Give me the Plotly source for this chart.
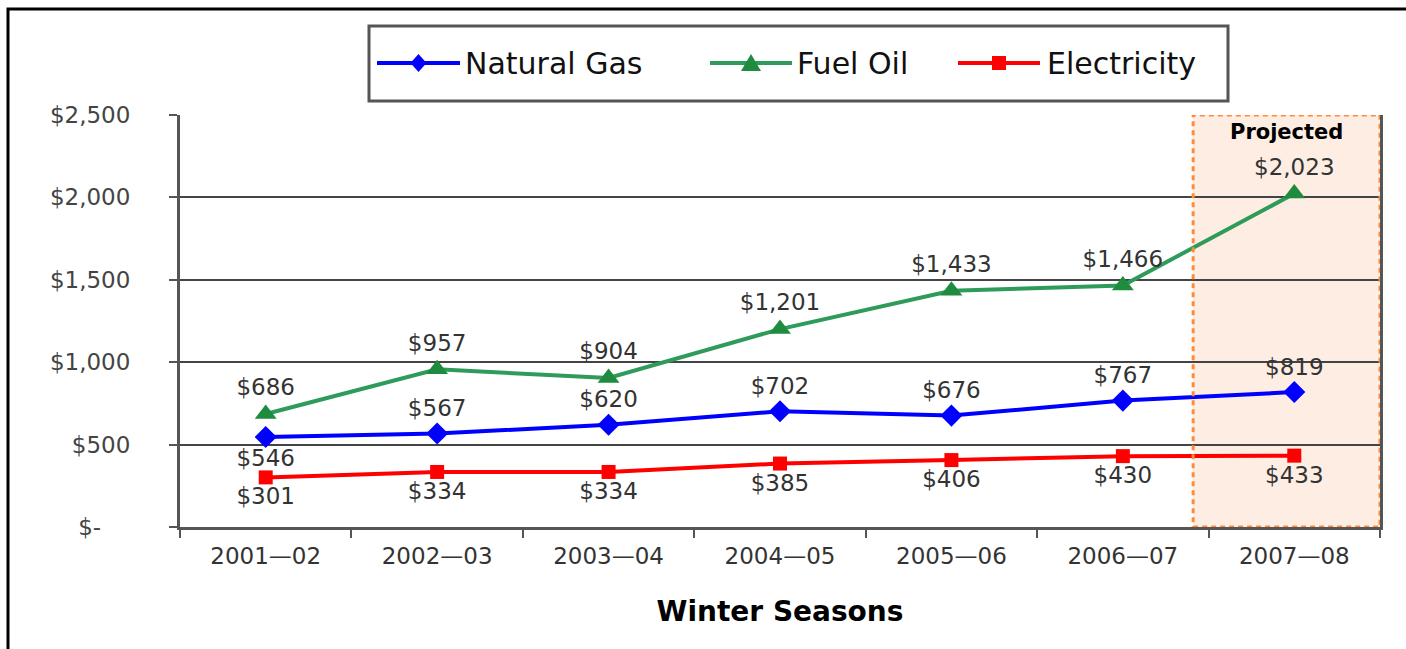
import plotly.graph_objects as go

seasons = ["2001—02", "2002—03", "2003—04", "2004—05", "2005—06", "2006—07", "2007—08"]
natural_gas = [546, 567, 620, 702, 676, 767, 819]
fuel_oil = [686, 957, 904, 1201, 1433, 1466, 2023]
electricity = [301, 334, 334, 385, 406, 430, 433]
y_ticks = [0, 500, 1000, 1500, 2000, 2500]
y_tick_labels = ["$-\u00a0\u00a0\u00a0\u00a0", "$500", "$1,000", "$1,500", "$2,000", "$2,500"]
series_names = ["Natural Gas", "Fuel Oil", "Electricity"]

FONT = "DejaVu Sans"
W, H = 1406, 649
ML, MR, MT, MB = 180, 26, 115, 122
PW, PH = W - ML - MR, H - MT - MB


def px(x):
    return (x - ML) / PW


def py(y):
    return (H - MB - y) / PH


def money(v):
    return "${:,}".format(v)


colors = {"Natural Gas": "#0000FF", "Fuel Oil": "#2E9B5A", "Electricity": "#FF0000"}
marker_colors = {"Natural Gas": "#0000FF", "Fuel Oil": "#1F8B3F", "Electricity": "#FF0000"}
label_font = dict(family=FONT, size=23, color="#333333")

fig = go.Figure()
fig.add_trace(go.Scatter(
    x=seasons, y=natural_gas, name="Natural Gas", mode="lines+markers+text",
    line=dict(color=colors["Natural Gas"], width=4),
    marker=dict(symbol="diamond", size=17, color=marker_colors["Natural Gas"]),
    text=[money(v) for v in natural_gas],
    textposition=["bottom center"] + ["top center"] * (len(seasons) - 1),
    textfont=label_font, cliponaxis=False,
))
fig.add_trace(go.Scatter(
    x=seasons, y=fuel_oil, name="Fuel Oil", mode="lines+markers+text",
    line=dict(color=colors["Fuel Oil"], width=4),
    marker=dict(symbol="triangle-up", size=19, color=marker_colors["Fuel Oil"]),
    text=[money(v) for v in fuel_oil], textposition="top center",
    textfont=label_font, cliponaxis=False,
))
fig.add_trace(go.Scatter(
    x=seasons, y=electricity, name="Electricity", mode="lines+markers+text",
    line=dict(color=colors["Electricity"], width=4),
    marker=dict(symbol="square", size=14, color=marker_colors["Electricity"]),
    text=[money(v) for v in electricity], textposition="bottom center",
    textfont=label_font, cliponaxis=False,
))

shapes = []
annotations = []

# projected region
proj_x0, proj_x1 = 5.41, 6.5
shapes.append(dict(type="rect", xref="x", yref="y", x0=proj_x0, x1=proj_x1, y0=0, y1=2500,
                   fillcolor="#FDEDE2", line=dict(width=0), layer="below"))
shapes.append(dict(type="rect", xref="x", yref="y", x0=proj_x0, x1=proj_x1, y0=0, y1=2500,
                   fillcolor="rgba(0,0,0,0)", line=dict(color="#FF8A3A", width=3, dash="5px,4px"),
                   layer="above"))
annotations.append(dict(text="<b>Projected</b>", xref="x", yref="y", x=(proj_x0 + proj_x1) / 2,
                        y=2500, yanchor="top", yshift=-3, showarrow=False,
                        font=dict(family=FONT, size=21, color="#000000")))

# outer frame
shapes.append(dict(type="rect", xref="paper", yref="paper", x0=px(8), x1=px(1500), y0=py(800), y1=py(9),
                   line=dict(color="#000000", width=3), fillcolor="rgba(0,0,0,0)", layer="above"))

# custom legend box
shapes.append(dict(type="rect", xref="paper", yref="paper", x0=px(369), x1=px(1228), y0=py(101), y1=py(26),
                   line=dict(color="#555555", width=3), fillcolor="#FFFFFF", layer="above"))
leg_y = 63
legend_items = [
    ("Natural Gas", 377, 460, 463, "M -8,0 L 0,9 L 8,0 L 0,-9 Z"),
    ("Fuel Oil", 710, 792, 795, "M -10,-8 L 10,-8 L 0,9 Z"),
    ("Electricity", 958, 1040, 1045, "M -7,-7 L 7,-7 L 7,7 L -7,7 Z"),
]
for name, lx0, lx1, tx, path in legend_items:
    shapes.append(dict(type="line", xref="paper", yref="paper", x0=px(lx0), x1=px(lx1),
                       y0=py(leg_y), y1=py(leg_y), line=dict(color=colors[name], width=4), layer="above"))
    shapes.append(dict(type="path", xref="paper", yref="paper", xsizemode="pixel", ysizemode="pixel",
                       xanchor=px((lx0 + lx1) / 2), yanchor=py(leg_y), path=path,
                       fillcolor=marker_colors[name], line=dict(width=0), layer="above"))
    annotations.append(dict(text=name, xref="paper", yref="paper", x=px(tx), y=py(leg_y),
                            xanchor="left", yanchor="middle", showarrow=False,
                            font=dict(family=FONT, size=30, color="#111111")))

fig.update_layout(
    width=W, height=H,
    margin=dict(l=ML, r=MR, t=MT, b=MB),
    paper_bgcolor="#FFFFFF", plot_bgcolor="rgba(0,0,0,0)",
    showlegend=False,
    shapes=shapes, annotations=annotations,
    font=dict(family=FONT, color="#333333"),
)
fig.update_xaxes(
    type="category", range=[-0.5, 6.5], showgrid=False,
    showline=True, linecolor="#555555", linewidth=3,
    ticks="outside", tickson="boundaries", ticklen=8, tickwidth=2, tickcolor="#555555",
    tickfont=dict(family=FONT, size=23, color="#333333"), ticklabelstandoff=6,
    title=dict(text="<b>Winter Seasons</b>", font=dict(family=FONT, size=28, color="#000000"), standoff=34),
)
fig.update_yaxes(
    range=[0, 2500], tickvals=y_ticks, ticktext=y_tick_labels,
    showgrid=True, gridcolor="#444444", gridwidth=2,
    showline=True, linecolor="#555555", linewidth=3, mirror=True,
    ticks="outside", ticklen=8, tickwidth=2, tickcolor="#555555",
    tickfont=dict(family=FONT, size=23, color="#444444"),
    ticklabelstandoff=34, zeroline=False,
)

fig.write_html("out.html", include_plotlyjs=True, full_html=True,
               default_width=f"{W}px", default_height=f"{H}px",
               config={"displayModeBar": False},
               post_script="document.body.style.margin='0';")
